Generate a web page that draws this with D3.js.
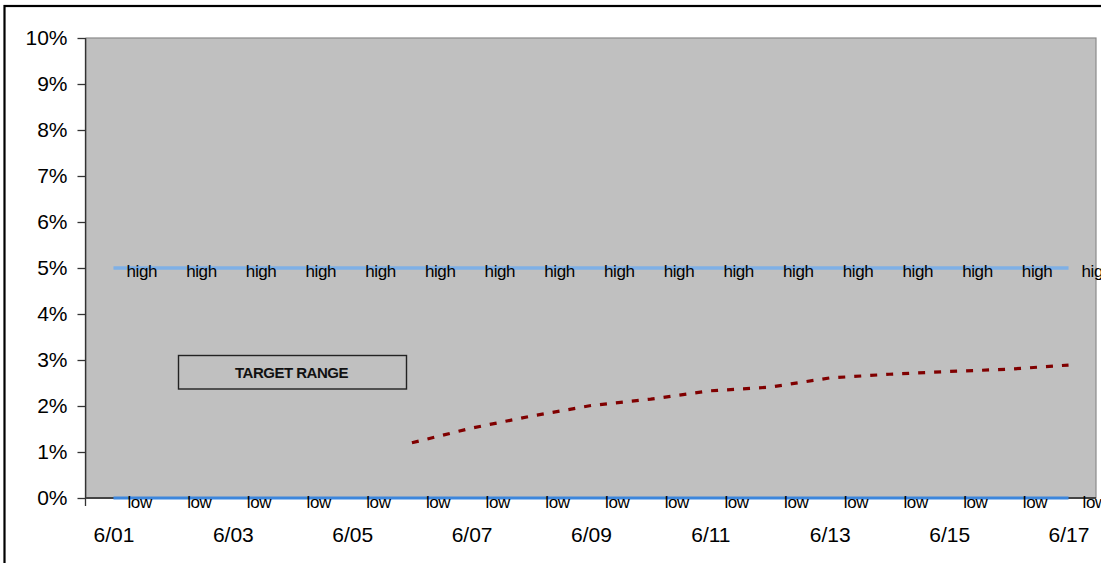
<!DOCTYPE html>
<html>
<head>
<meta charset="utf-8">
<script src="https://cdn.jsdelivr.net/npm/d3@7"></script>
<style>
  html, body { margin: 0; padding: 0; background: #ffffff; }
  svg { display: block; }
  text { font-family: "Liberation Sans", Arial, sans-serif; }
</style>
</head>
<body>
<svg id="chart" width="1101" height="563"></svg>
<script>
// Daily dates on the category axis
const categories = ["6/01", "6/02", "6/03", "6/04", "6/05", "6/06", "6/07", "6/08", "6/09",
                    "6/10", "6/11", "6/12", "6/13", "6/14", "6/15", "6/16", "6/17"];
// Upper and lower bounds of the target range (percent)
const highValues = [5, 5, 5, 5, 5, 5, 5, 5, 5, 5, 5, 5, 5, 5, 5, 5, 5];
const lowValues  = [0, 0, 0, 0, 0, 0, 0, 0, 0, 0, 0, 0, 0, 0, 0, 0, 0];
// Observed series (percent), starting 6/06
const actualDates  = ["6/06", "6/07", "6/08", "6/09", "6/10", "6/11", "6/12", "6/13", "6/14", "6/15", "6/16", "6/17"];
const actualValues = [1.20, 1.52, 1.78, 2.01, 2.15, 2.33, 2.41, 2.61, 2.69, 2.75, 2.80, 2.89];
// Axis ticks
const yTickValues = [0, 1, 2, 3, 4, 5, 6, 7, 8, 9, 10];
const xTickLabels = ["6/01", "6/03", "6/05", "6/07", "6/09", "6/11", "6/13", "6/15", "6/17"];
const highLabel = "high";
const lowLabel = "low";
const boxLabel = "TARGET RANGE";

const svg = d3.select("#chart");
const plot = { left: 86, top: 38, right: 1096, bottom: 498 };

const x = d3.scalePoint().domain(categories).range([plot.left, plot.right]).padding(0.46);
const y = d3.scaleLinear().domain([0, 10]).range([plot.bottom, plot.top]);

// outer chart frame
svg.append("rect")
  .attr("x", 4.5).attr("y", 6).attr("width", 1200).attr("height", 700)
  .attr("fill", "none").attr("stroke", "#000").attr("stroke-width", 2.2);

// plot area
svg.append("rect")
  .attr("x", plot.left).attr("y", plot.top)
  .attr("width", plot.right - plot.left).attr("height", plot.bottom - plot.top)
  .attr("fill", "#c0c0c0").attr("stroke", "#8a8a8a").attr("stroke-width", 1.2);

// y axis
const yAxis = d3.axisLeft(y).tickValues(yTickValues).tickFormat(d => d + "%").tickSize(8).tickPadding(10);
const gy = svg.append("g").attr("transform", `translate(${plot.left - 0.5},0)`).call(yAxis);
gy.select(".domain").remove();
gy.selectAll(".tick line").attr("stroke", "#333").attr("stroke-width", 1.3);
gy.selectAll(".tick text").attr("font-size", 21).attr("fill", "#000")
  .attr("font-family", "'Liberation Sans', Arial, sans-serif");
svg.append("line")
  .attr("x1", plot.left - 0.5).attr("x2", plot.left - 0.5)
  .attr("y1", plot.top).attr("y2", plot.bottom + 8)
  .attr("stroke", "#333").attr("stroke-width", 1.3);

// x axis
svg.append("line")
  .attr("x1", plot.left).attr("x2", plot.right)
  .attr("y1", y(0)).attr("y2", y(0))
  .attr("stroke", "#444").attr("stroke-width", 2);
const xAxis = d3.axisBottom(x).tickValues(xTickLabels).tickSize(0).tickPadding(0);
const gx = svg.append("g").attr("transform", `translate(0,${plot.bottom})`).call(xAxis);
gx.select(".domain").remove();
gx.selectAll(".tick text")
  .attr("font-size", 21).attr("fill", "#000").attr("dy", null).attr("y", 44)
  .attr("font-family", "'Liberation Sans', Arial, sans-serif");

// target range bounds
const line = d3.line().x((d, i) => x(categories[i])).y(d => y(d));
svg.append("path").datum(highValues)
  .attr("d", line).attr("fill", "none")
  .attr("stroke", "#7fb0e6").attr("stroke-width", 3.5);
svg.append("path").datum(lowValues)
  .attr("d", line).attr("fill", "none")
  .attr("stroke", "#3c86dc").attr("stroke-width", 3);

// bound labels (the last ones run past the chart edge)
svg.append("g").selectAll("text").data(highValues).join("text")
  .attr("x", (d, i) => x(categories[i]) + 13)
  .attr("y", d => y(d) + 8.5)
  .attr("font-size", 17).attr("letter-spacing", -0.4).attr("fill", "#000")
  .text(highLabel);
svg.append("g").selectAll("text").data(lowValues).join("text")
  .attr("x", (d, i) => x(categories[i]) + 14)
  .attr("y", d => y(d) + 9.5)
  .attr("font-size", 17).attr("letter-spacing", -0.4).attr("fill", "#000")
  .text(lowLabel);

// observed series
const actualLine = d3.line().x((d, i) => x(actualDates[i])).y(d => y(d));
svg.append("path").datum(actualValues)
  .attr("d", actualLine).attr("fill", "none")
  .attr("stroke", "#800000").attr("stroke-width", 3.2)
  .attr("stroke-dasharray", "7,9");

// annotation box
const box = { x: 178.5, y: 355.5, w: 228, h: 33.5 };
svg.append("rect")
  .attr("x", box.x).attr("y", box.y).attr("width", box.w).attr("height", box.h)
  .attr("fill", "none").attr("stroke", "#222").attr("stroke-width", 1.4);
svg.append("text")
  .attr("x", box.x + box.w / 2 - 1).attr("y", box.y + box.h / 2 + 5.5)
  .attr("text-anchor", "middle").attr("font-size", 15).attr("font-weight", "bold")
  .attr("letter-spacing", -0.5).attr("fill", "#111")
  .text(boxLabel);
</script>
</body>
</html>
